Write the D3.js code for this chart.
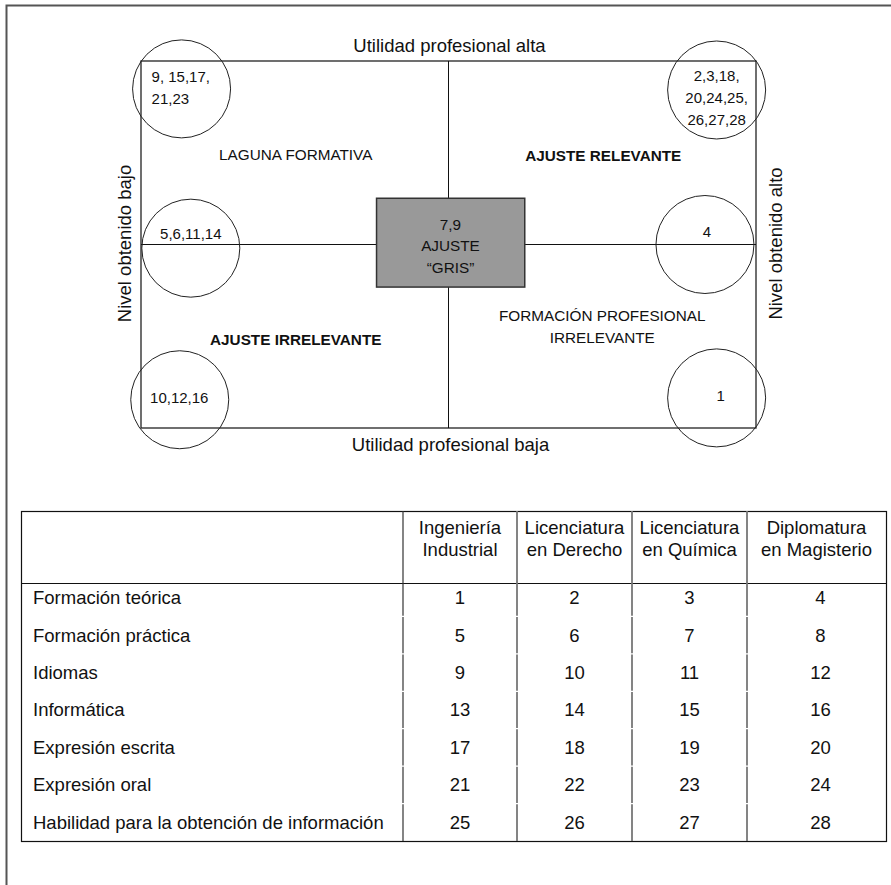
<!DOCTYPE html>
<html>
<head>
<meta charset="utf-8">
<script src="https://cdn.jsdelivr.net/npm/d3@7"></script>
<style>
  body { margin: 0; background: #fff; }
  svg text { font-family: "Liberation Sans", Arial, sans-serif; fill: #111; }
</style>
</head>
<body>
<svg id="chart" width="891" height="885"></svg>
<script>
// groups of item numbers placed on the map (level obtained vs professional utility)
const groupLines = [
  ["9, 15,17,", "21,23"],
  ["5,6,11,14"],
  ["10,12,16"],
  ["2,3,18,", "20,24,25,", "26,27,28"],
  ["4"],
  ["1"]
];
const groupLevel   = [0.066, 0.081, 0.063, 0.936, 0.917, 0.936]; // 0 = bajo, 1 = alto
const groupUtility = [0.924, 0.490, 0.077, 0.921, 0.500, 0.082]; // 0 = baja, 1 = alta

// the grey "adjustment" box in the middle
const greyLines   = ["7,9", "AJUSTE", "\u201CGRIS\u201D"];
const greyLevel   = [0.383, 0.624];
const greyUtility = [0.384, 0.626];

// quadrant names (top-left, top-right, bottom-left, bottom-right)
const quadrantNames = [
  ["LAGUNA FORMATIVA"],
  ["AJUSTE RELEVANTE"],
  ["AJUSTE IRRELEVANTE"],
  ["FORMACIÓN PROFESIONAL", "IRRELEVANTE"]
];

// table
const skills = [
  "Formación teórica",
  "Formación práctica",
  "Idiomas",
  "Informática",
  "Expresión escrita",
  "Expresión oral",
  "Habilidad para la obtención de información"
];
const degrees = [
  ["Ingeniería", "Industrial"],
  ["Licenciatura", "en Derecho"],
  ["Licenciatura", "en Química"],
  ["Diplomatura", "en Magisterio"]
];
const itemNumbers = [
  [1, 2, 3, 4],
  [5, 6, 7, 8],
  [9, 10, 11, 12],
  [13, 14, 15, 16],
  [17, 18, 19, 20],
  [21, 22, 23, 24],
  [25, 26, 27, 28]
];

const svg = d3.select("#chart");

// outer frame (cut by the page edge on right and bottom)
svg.append("rect")
  .attr("x", 6.5).attr("y", 5.5).attr("width", 950).attr("height", 950)
  .attr("fill", "none").attr("stroke", "#555").attr("stroke-width", 2);

//---------------- the map ----------------
const x = d3.scaleLinear().domain([0, 1]).range([141, 756]);
const y = d3.scaleLinear().domain([0, 1]).range([428, 61]);
const map = svg.append("g");

map.append("rect")
  .attr("x", x(0)).attr("y", y(1))
  .attr("width", x(1) - x(0)).attr("height", y(0) - y(1))
  .attr("fill", "none").attr("stroke", "#222").attr("stroke-width", 1.3);

map.append("line")
  .attr("x1", x(0.5)).attr("x2", x(0.5)).attr("y1", y(0)).attr("y2", y(1))
  .attr("stroke", "#111");
map.append("line")
  .attr("x1", x(0)).attr("x2", x(1)).attr("y1", y(0.5)).attr("y2", y(0.5))
  .attr("stroke", "#111");

// axis names
map.append("text").attr("x", x(0.5) + 1).attr("y", y(1) - 9.5)
  .attr("text-anchor", "middle").style("font-size", "18.5px")
  .text("Utilidad profesional alta");
map.append("text").attr("x", x(0.5) + 2).attr("y", y(0) + 23)
  .attr("text-anchor", "middle").style("font-size", "18.5px")
  .text("Utilidad profesional baja");
map.append("text")
  .attr("transform", `translate(${x(0) - 10},${y(0.5) - 1}) rotate(-90)`)
  .attr("text-anchor", "middle").style("font-size", "18.5px")
  .text("Nivel obtenido bajo");
map.append("text")
  .attr("transform", `translate(${x(1) + 25.5},${y(0.5) - 1}) rotate(-90)`)
  .attr("text-anchor", "middle").style("font-size", "18.5px")
  .text("Nivel obtenido alto");

// quadrant names
const qx = [x(0.25), x(0.75), x(0.25), x(0.75)];
const qy = [160, 161, 345, 321];
quadrantNames.forEach((lines, i) => {
  const t = map.append("text")
    .attr("text-anchor", "middle")
    .style("font-size", "15.3px")
    .style("font-weight", i == 1 || i == 2 ? "bold" : "normal");
  lines.forEach((s, j) => {
    t.append("tspan").attr("x", qx[i] + (i == 3 ? 0 : 1)).attr("y", qy[i] + j * 22).text(s);
  });
});

// grey box
map.append("rect")
  .attr("x", x(greyLevel[0])).attr("y", y(greyUtility[1]))
  .attr("width", x(greyLevel[1]) - x(greyLevel[0]))
  .attr("height", y(greyUtility[0]) - y(greyUtility[1]))
  .attr("fill", "#999").attr("stroke", "#333").attr("stroke-width", 1.5);
const gt = map.append("text").attr("text-anchor", "middle").style("font-size", "15.3px");
greyLines.forEach((s, j) => {
  gt.append("tspan").attr("x", x(0.5) + 2).attr("y", 230 + j * 21.4).text(s);
});

// circles with item numbers
const r = 49;
// text offsets relative to each circle centre: [dx, first baseline dy, anchor]
const textPos = [[-30, -7.3, "start"], [0, -8.7, "middle"], [-0.5, 3.6, "middle"],
                 [0, -9.3, "middle"], [2, -7.6, "middle"], [4, 2.7, "middle"]];
groupLines.forEach((lines, i) => {
  const cx = x(groupLevel[i]), cy = y(groupUtility[i]);
  map.append("circle").attr("cx", cx).attr("cy", cy).attr("r", r)
    .attr("fill", "none").attr("stroke", "#222").attr("stroke-width", 1);
  const t = map.append("text")
    .attr("text-anchor", textPos[i][2]).style("font-size", "15px");
  lines.forEach((s, j) => {
    t.append("tspan").attr("x", cx + textPos[i][0])
      .attr("y", cy + textPos[i][1] + j * 22.4).text(s);
  });
});

//---------------- the table ----------------
const colX = [21, 403, 517, 632, 747, 886];
const tableTop = 511, headBottom = 583, tableBottom = 841;
const row = d3.scaleBand().domain(skills).range([579, tableBottom]);
const tbl = svg.append("g");

tbl.append("rect")
  .attr("x", colX[0] + 0.5).attr("y", tableTop + 0.5)
  .attr("width", colX[5] - colX[0]).attr("height", tableBottom - tableTop)
  .attr("fill", "none").attr("stroke", "#111").attr("stroke-width", 1.2);
tbl.append("line")
  .attr("x1", colX[0]).attr("x2", colX[5]).attr("y1", headBottom + 0.5).attr("y2", headBottom + 0.5)
  .attr("stroke", "#111").attr("stroke-width", 1.2);

// column rules, drawn cell by cell with a small break between rows
const breaks = [tableTop, headBottom].concat(skills.slice(1).map(s => row(s)), [tableBottom]);
colX.slice(1, 5).forEach((cx, k) => {
  for (let b = 0; b < breaks.length - 1; b++) {
    tbl.append("line")
      .attr("x1", cx).attr("x2", cx)
      .attr("y1", breaks[b] + (b > 1 ? 0.6 : 0))
      .attr("y2", breaks[b + 1] - (b > 0 && b < breaks.length - 2 ? 0.6 : 0))
      .attr("stroke", k == 0 ? "#333" : "#777").attr("stroke-width", k == 0 ? 1.2 : 1.8);
  }
});

// header
degrees.forEach((lines, i) => {
  const cx = (colX[i + 1] + colX[i + 2]) / 2;
  lines.forEach((s, j) => {
    tbl.append("text").attr("x", cx).attr("y", 534 + j * 22)
      .attr("text-anchor", "middle").style("font-size", "18.5px").text(s);
  });
});

// body rows
skills.forEach((s, i) => {
  const cy = row(s) + row.bandwidth() / 2;
  tbl.append("text").attr("x", 33).attr("y", cy).attr("dy", "0.35em")
    .style("font-size", "18.5px").text(s);
  itemNumbers[i].forEach((n, k) => {
    tbl.append("text")
      .attr("x", (colX[k + 1] + colX[k + 2]) / 2 + (k == 3 ? 4 : 0))
      .attr("y", cy).attr("dy", "0.35em")
      .attr("text-anchor", "middle").style("font-size", "18.5px").text(n);
  });
});
</script>
</body>
</html>
